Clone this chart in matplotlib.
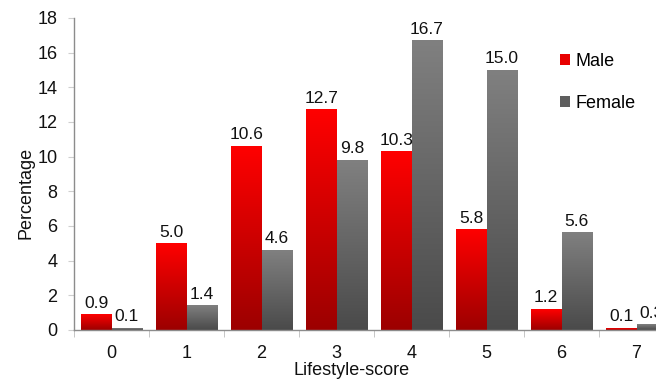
import numpy as np
import matplotlib
matplotlib.use("Agg")
import matplotlib.pyplot as plt
from matplotlib.colors import LinearSegmentedColormap
from matplotlib.patches import Patch

plt.rcParams['font.family'] = ['Liberation Sans', 'DejaVu Sans']

# Lifestyle-score distribution by sex (%)
scores = ["0", "1", "2", "3", "4", "5", "6", "7"]
male = [0.9, 5.0, 10.6, 12.7, 10.3, 5.8, 1.2, 0.1]
female = [0.1, 1.4, 4.6, 9.8, 16.7, 15.0, 5.6, 0.3]
series_names = ["Male", "Female"]

red_cmap = LinearSegmentedColormap.from_list("red_grad", ["#9c0000", "#ff0000"])
grey_cmap = LinearSegmentedColormap.from_list("grey_grad", ["#4a4a4a", "#808080"])

fig = plt.figure(figsize=(6.56, 3.82), dpi=100)
ax = fig.add_axes([74 / 656, 52 / 382, 600 / 656, 312 / 382])

x = np.arange(len(scores))
width = 0.41
bars_m = ax.bar(x - width / 2, male, width, color="none", linewidth=0)
bars_f = ax.bar(x + width / 2, female, width, color="none", linewidth=0)

# vertical gradient fill for each bar, with its value printed on top
grad = np.linspace(0, 1, 256).reshape(-1, 1)
for bars, cmap in ((bars_m, red_cmap), (bars_f, grey_cmap)):
    for b in bars:
        x0, w, h = b.get_x(), b.get_width(), b.get_height()
        ax.imshow(grad, extent=[x0, x0 + w, 0, h], origin="lower",
                  aspect="auto", cmap=cmap, zorder=2, interpolation="bicubic")
        ax.text(x0 + w / 2, h + 0.22, f"{h:.1f}", ha="center", va="bottom",
                fontsize=12.5, color="#111111", zorder=3)

ax.set_xlim(-0.5, len(scores) - 0.5)
ax.set_ylim(0, 18)
ax.set_yticks(np.arange(0, 19, 2))
ax.set_xticks(x)
ax.set_xticklabels(scores)
ax.set_xticks(np.arange(-0.5, len(scores), 1), minor=True)

for s in ("top", "right"):
    ax.spines[s].set_visible(False)
for s in ("left", "bottom"):
    ax.spines[s].set_color("#8c8c8c")
    ax.spines[s].set_linewidth(1.0)

ax.tick_params(axis="x", which="major", length=0, labelsize=13, pad=11, colors="#111111")
ax.tick_params(axis="x", which="minor", length=5, color="#bdbdbd", direction="out")
ax.tick_params(axis="y", length=4, labelsize=13, pad=8)
ax.tick_params(axis="y", colors="#cfcfcf", labelcolor="#111111")

ax.set_xlabel("Lifestyle-score", fontsize=13, color="#111111")
ax.xaxis.set_label_coords((352 - 74) / 600, -0.102)
ax.set_ylabel("Percentage", fontsize=13, color="#111111")
ax.yaxis.set_label_coords(-0.066, 0.44)

handles = [Patch(facecolor="#e80000", edgecolor="none"),
           Patch(facecolor="#5e5e5e", edgecolor="none")]
fig.legend(handles, series_names, loc="upper left", bbox_to_anchor=(553 / 656, 1 - 46 / 382),
           frameon=False, fontsize=13, handlelength=0.55, handleheight=0.55,
           handletextpad=0.3, labelspacing=1.35, borderaxespad=0)

fig.savefig("out.png", dpi=100)
